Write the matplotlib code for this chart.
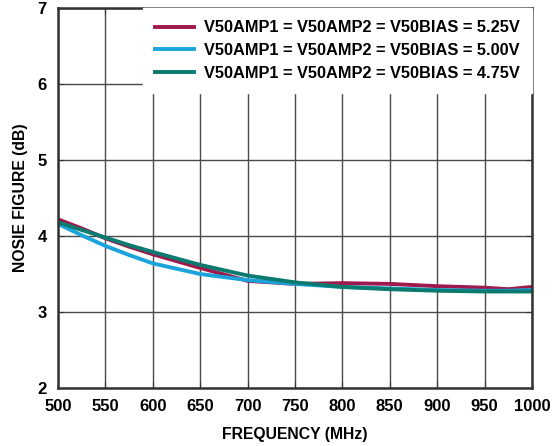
import matplotlib.pyplot as plt
import numpy as np

freq = [500, 525, 550, 575, 600, 650, 700, 750, 800, 850, 900, 950, 975, 1000]
nf_525 = [4.22, 4.10, 3.97, 3.86, 3.76, 3.58, 3.41, 3.37, 3.38, 3.37, 3.34, 3.32, 3.30, 3.33]
nf_500 = [4.16, 4.01, 3.87, 3.75, 3.64, 3.50, 3.42, 3.37, 3.33, 3.31, 3.29, 3.28, 3.28, 3.29]
nf_475 = [4.18, 4.08, 3.98, 3.88, 3.79, 3.62, 3.48, 3.39, 3.33, 3.30, 3.28, 3.27, 3.27, 3.27]
labels = ['V50AMP1 = V50AMP2 = V50BIAS = 5.25V',
          'V50AMP1 = V50AMP2 = V50BIAS = 5.00V',
          'V50AMP1 = V50AMP2 = V50BIAS = 4.75V']
colors = ['#9e1a4c', '#1ba3dc', '#0b7a6f']

plt.rcParams['font.family'] = ['Liberation Sans', 'DejaVu Sans']
plt.rcParams['font.weight'] = 'bold'

fig = plt.figure(figsize=(5.59, 4.46), dpi=100)
ax = fig.add_axes([0.1038, 0.130, 0.8479, 0.852])

for y, lab, c in zip([nf_525, nf_500, nf_475], labels, colors):
    ax.plot(freq, y, color=c, lw=2.8, label=lab)

ax.set_xlim(500, 1000)
ax.set_ylim(2, 7)
ax.set_xticks(np.arange(500, 1001, 50))
ax.set_yticks(np.arange(2, 8, 1))
ax.grid(True, color='#4a4a4a', lw=1)
ax.set_axisbelow(True)
ax.tick_params(direction='in', length=4, top=True, right=True, labelsize=12, color='#333333', pad=8)
for s in ax.spines.values():
    s.set_color('#333333')
    s.set_linewidth(1.8)

ax.set_xlabel('FREQUENCY (MHz)', fontsize=11.3, fontweight='bold', labelpad=9)
ax.set_ylabel('NOSIE FIGURE (dB)', fontsize=11.3, fontweight='bold', labelpad=7)

leg = ax.legend(loc='upper right', fontsize=11.8, frameon=True, fancybox=False,
                framealpha=1, edgecolor='white', borderaxespad=0.0,
                handlelength=2.4, handletextpad=0.6, labelspacing=0.48, borderpad=0.75)
for t in leg.get_texts():
    t.set_fontweight('bold')

fig.savefig('out.png', dpi=100)
